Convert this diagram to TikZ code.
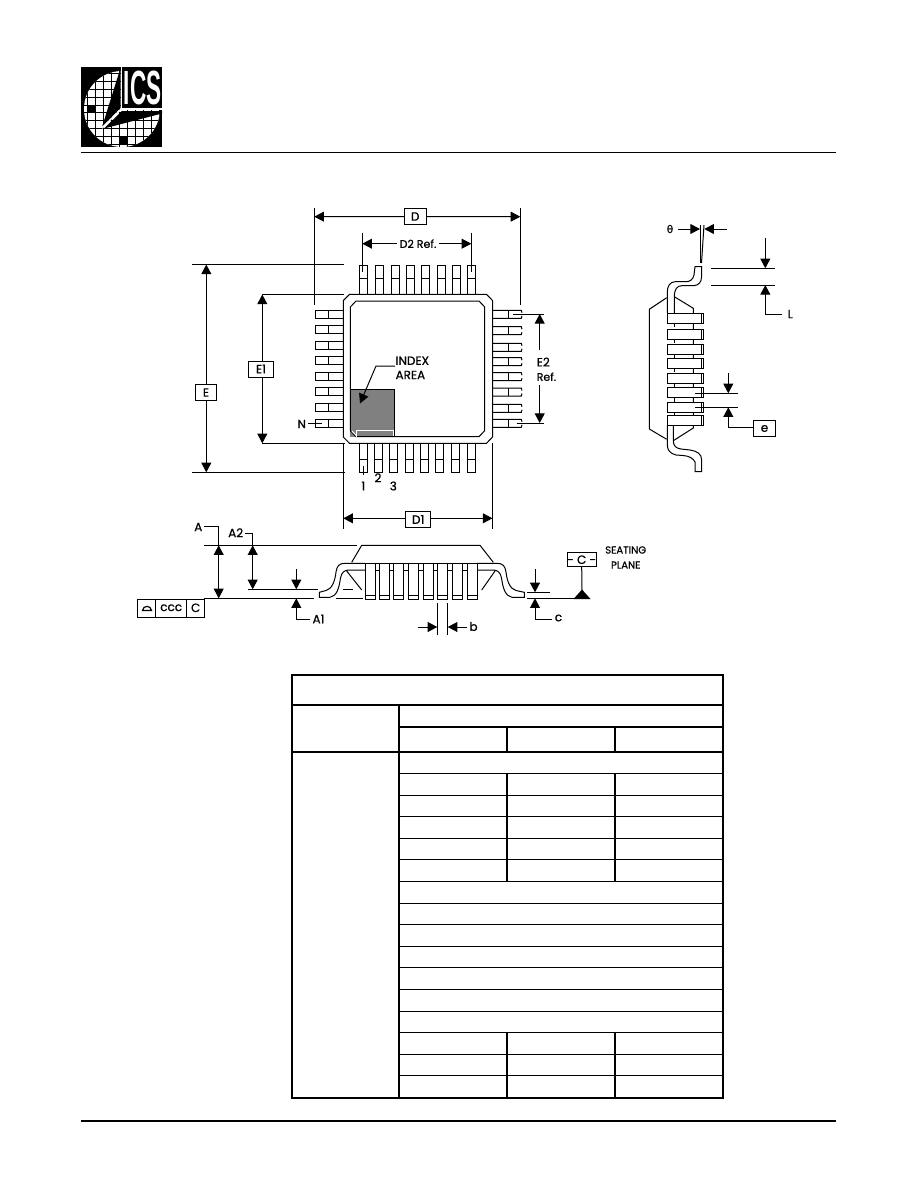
\documentclass[tikz,border=0pt]{standalone}
\usepackage{fontspec}
\setmainfont{Poppins}[FakeBold=0.7]
\newfontfamily\logofont{Liberation Sans}
\newfontfamily\symfont{DejaVu Sans}[FakeBold=0.5]
\usetikzlibrary{arrows.meta}
\tikzset{
  thinl/.style={line width=.75pt},
  arr/.style={thinl,-{Triangle[length=7.2pt,width=7.4pt]}},
  darr/.style={thinl,{Triangle[length=7.2pt,width=7.4pt]}-{Triangle[length=7.2pt,width=7.4pt]}},
  tabthick/.style={line width=1.5pt},
  tabthin/.style={line width=.9pt},
  dimbox/.style={draw,thinl,fill=white,minimum height=12pt,inner sep=0pt,font=\fontsize{9}{10}\selectfont},
  lbl/.style={inner sep=0pt,font=\fontsize{9}{10}\selectfont},
}
\begin{document}
\begin{tikzpicture}[x=.75pt,y=-.75pt,line join=miter]
\useasboundingbox (0,0) rectangle (918,1188);
% ---------- header / footer
\draw[line width=.8pt] (81,152.5) -- (836,152.5);
\draw[line width=.8pt] (81,1121) -- (836,1121);
% ---------- logo
\fill[black] (81,67) rectangle (162,147);
\begin{scope}
  \clip (122,109) circle (38);
  \fill[white] (81,67) rectangle (162,147);
  \draw[line width=.55pt] foreach \gx in {87,95,103,111,119,127,135,143,151,159}{(\gx,67) -- (\gx,147)};
  \draw[line width=.55pt] foreach \gy in {73.8,81.6,89.4,97.2,105,112.8,120.6,128.4,136.2,144}{(81,\gy) -- (162,\gy)};
  \fill[black] (87,105) rectangle (95,112.8);
  \fill[black] (119,136.2) rectangle (127,144);
\end{scope}
\fill[black] (122,67) rectangle (162,108);
\fill[black] (102,127) -- (120.5,68) -- (120.5,108) -- cycle;
\fill[black] (104,128.5) -- (122,111) -- (162,111) -- (162,113.5) -- cycle;
\draw[white,line width=1.1pt] (121.5,67) -- (121.5,108.8) -- (162,108.8);
\draw[white,line width=1.1pt] (121.5,108.8) -- (102,128);
\node[white,inner sep=0pt] (logotext) at (142.7,87.5) {\scalebox{.47}[1]{\logofont\bfseries\fontsize{36}{38}\selectfont ICS}};
% ---------- top view leads
\foreach \lx in {359.3,375.3,391.3,406.3,421.3,437.3,452.3,467.3}{
  \draw[thinl] (\lx,294) -- (\lx,265) -- (\lx+8,265) -- (\lx+8,294);
  \draw[thinl] (\lx,278) -- (\lx+8,278);
}
\foreach \lx in {359.3,374.3,389.3,405.3,420.3,435.3,451.3,467.3}{
  \draw[thinl] (\lx,443) -- (\lx,472.3) -- (\lx+8,472.3) -- (\lx+8,443);
  \draw[thinl] (\lx,459) -- (\lx+8,459);
}
\foreach \ly in {310.5,325.7,341,356.7,372.3,387.7,403.3,419.3}{
  \draw[thinl] (343.5,\ly) -- (315.3,\ly) -- (315.3,\ly+8) -- (343.5,\ly+8);
  \draw[thinl] (328.3,\ly) -- (328.3,\ly+8);
}
\foreach \ly in {310.3,326.7,343.3,357.7,372.7,388,404.3,419.3}{
  \draw[thinl] (492.5,\ly) -- (521.3,\ly) -- (522,\ly+2.5);
  \draw[thinl] (492.5,\ly+8) -- (521.3,\ly+8) -- (522,\ly+5.5);
  \draw[thinl] (508.3,\ly) -- (508.3,\ly+8);
}
% ---------- top view body
\draw[thinl,fill=white] (349.5,294.3) -- (486.5,294.3) -- (492.5,300.5) -- (492.5,437) -- (486.5,443.3) -- (349.5,443.3) -- (343.3,437) -- (343.3,300.5) -- cycle;
\fill[black!50] (350.3,389.3) rectangle (394.7,436.7);
\draw[thinl] (350.3,389.3) -- (394.7,389.3) -- (394.7,436.7);
\draw[thinl] (356,301) -- (479,301) -- (484.7,307) -- (484.7,430.7) -- (479,436.7) -- (356,436.7) -- (350.3,430.7) -- (350.3,307) -- cycle;
\draw[white,line width=.8pt] (393.3,436) -- (393.3,430.5) -- (356.7,430.5) -- (356.7,436.5);
\draw[white,line width=.8pt] (352,431) -- (356.7,436) ;
% index area
\node[lbl,anchor=west] (indexa) at (395.3,360.7) {INDEX};
\node[lbl,anchor=west] (areab) at (395.3,375) {AREA};
\coordinate (idxbend) at (376,366);
\coordinate (idxtip) at (360,403.5);
\draw[arr] (395,366) -- (idxbend) -- (idxtip);
% pin labels
\node[lbl] (pin1) at (363.3,486) {1};
\node[lbl] (pin2) at (378,477.7) {2};
\node[lbl] (pin3) at (393.3,486) {3};
\draw[thinl] (363.3,466) -- (363.3,475);
\node[lbl] (pinN) at (301.7,424) {N};
\draw[thinl] (308,423) -- (322,423);
% ---------- D
\draw[thinl] (314.3,208) -- (314.3,305);
\draw[thinl] (520.3,208) -- (520.3,305);
\node[dimbox,minimum width=16.2pt] (dD) at (415.2,216.5) {D};
\coordinate (dDl) at (314.3,216.7);
\coordinate (dDr) at (520.3,216.7);
\draw[arr] (dD.west) -- (dDl);
\draw[arr] (dD.east) -- (dDr);
% ---------- D2
\draw[thinl] (362.3,232.7) -- (362.3,271.7);
\draw[thinl] (471.3,232.7) -- (471.3,271.7);
\node[lbl,font=\fontsize{8.3}{10}\selectfont] (dD2) at (418,243.7) {D2 Ref.};
\coordinate (d2l) at (362.3,243.7);
\coordinate (d2r) at (471.3,243.7);
\draw[arr] (396.7,243.7) -- (d2l);
\draw[arr] (439,243.7) -- (d2r);
% ---------- E
\draw[thinl] (192.3,264.3) -- (344,264.3);
\draw[thinl] (192.3,472.3) -- (345,472.3);
\node[dimbox,minimum width=16pt] (dE) at (206,392.5) {E};
\coordinate (dEt) at (206.3,264.5);
\coordinate (dEb) at (206.3,472.3);
\draw[arr] (dE.north -| dEt) -- (dEt);
\draw[arr] (dE.south -| dEt) -- (dEb);
% ---------- E1
\draw[thinl] (262.3,294.3) -- (344,294.3);
\draw[thinl] (262.3,443.3) -- (345,443.3);
\node[dimbox,minimum width=19pt] (dE1) at (261,369) {E1};
\coordinate (dE1t) at (262.3,294.5);
\coordinate (dE1b) at (262.3,443.3);
\draw[arr] (dE1.north -| dE1t) -- (dE1t);
\draw[arr] (dE1.south -| dE1t) -- (dE1b);
% ---------- E2
\draw[thinl] (512.7,314) -- (544,314);
\draw[thinl] (516.7,423) -- (544,423);
\node[lbl,anchor=west] (dE2a) at (536.5,362) {E2};
\node[lbl,anchor=west,font=\fontsize{8.2}{10}\selectfont] (dE2b) at (536.5,376.7) {Ref.};
\coordinate (e2t) at (539.7,314);
\coordinate (e2b) at (539.7,423);
\draw[arr] (539.7,350) -- (e2t);
\draw[arr] (539.7,385) -- (e2b);
% ---------- D1
\draw[thinl] (343.3,443) -- (343.3,529.3);
\draw[thinl] (492.5,443) -- (492.5,529.3);
\node[dimbox,minimum width=18.8pt] (dD1) at (418.2,519.5) {D1};
\coordinate (d1l) at (343.3,518.3);
\coordinate (d1r) at (492.5,518.3);
\draw[arr] (dD1.west |- d1l) -- (d1l);
\draw[arr] (dD1.east |- d1r) -- (d1r);
% ---------- front view
\draw[thinl] (204,545.3) -- (356.7,545.3);
\draw[thinl] (204,598.3) -- (314,598.3);
\draw[thinl] (336,598.3) -- (363,598.3);
\draw[thinl] (248.3,589.3) -- (318.3,589.3);
\draw[thinl] (343,589.3) -- (353,589.3);
% body
\draw[thinl] (351.7,562.3) -- (361.7,545.3) -- (480,545.3) -- (493.3,562.3);
\draw[thinl] (346.7,571) -- (361.7,590);
\draw[thinl] (495,571) -- (481.7,590);
% left lead
\draw[thinl] (365,563.3) -- (345,563.3) .. controls (339,563.3) and (337,566) .. (336,572)
  .. controls (335,581) and (332,589) .. (326,590.5) -- (319.3,592.3) -- (319.3,597.3) -- (330,597.3)
  .. controls (337,596) and (339,588) .. (340.5,578) .. controls (341.5,572) and (345,570) .. (349,570) -- (365,570);
% right lead
\draw[thinl] (477,563.3) -- (497,563.3) .. controls (503,563.3) and (505,566) .. (506,572)
  .. controls (507,581) and (510,589) .. (516,590.5) -- (524.3,592.3) -- (524.3,597.3) -- (512,597.3)
  .. controls (505,596) and (503,588) .. (501.5,578) .. controls (500.5,572) and (497,570) .. (493,570) -- (477,570);
\draw[thinl] (365,563.3) -- (477,563.3);
\draw[thinl] (365,570) -- (477,570);
\foreach \fx in {365.3,379.3,393.3,408.3,423.3,437.7,452.7,467.7}{
  \draw[thinl,fill=white] (\fx,563.3) rectangle (\fx+10.2,599.3);
  \draw[thinl] (\fx,595.7) -- (\fx+10.2,595.7);
}
% A
\node[lbl] (lA) at (198.3,527) {A};
\coordinate (Acorner) at (218.7,526.7);
\coordinate (Atop) at (218.7,545.3);
\coordinate (Abot) at (218.7,598.3);
\draw[thinl] (204,526.7) -- (Acorner) -- (Atop);
\draw[darr] (Atop) -- (Abot);
% A2
\node[lbl] (lA2) at (235.7,532.7) {A2};
\coordinate (A2corner) at (252.7,533.7);
\coordinate (A2top) at (252.7,545.3);
\coordinate (A2bot) at (252.7,589.3);
\draw[thinl] (245,533.7) -- (A2corner) -- (A2top);
\draw[darr] (A2top) -- (A2bot);
% A1
\coordinate (A1t) at (296.3,589.3);
\coordinate (A1b) at (296.3,598.3);
\node[lbl] (lA1) at (318.5,619) {A1};
\draw[arr] (296.3,569) -- (A1t);
\draw[arr] (310,619.3) -- (296.3,619.3) -- (A1b);
% ccc box
\draw[thinl] (137.3,599.3) rectangle (204.7,617.3);
\draw[thinl] (155.7,599.3) -- (155.7,617.3);
\draw[thinl] (186.7,599.3) -- (186.7,617.3);
\node[lbl] (lccc) at (171.2,607.8) {ccc};
\node[lbl] (lCc) at (195.7,607.8) {C};
\draw[line width=.9pt] (142.5,610.5) -- (151.5,610.5) .. controls (151,605) and (143,605) .. (142.5,610.5) -- cycle;
% b
\draw[thinl] (437.3,603) -- (437.3,635);
\draw[thinl] (447.7,603) -- (447.7,635);
\coordinate (bl) at (437.3,627);
\coordinate (br) at (447.7,627);
\node[lbl] (lb) at (473.5,626.5) {b};
\draw[arr] (418.3,627) -- (bl);
\draw[arr] (466.7,627) -- (br);
% c and seating plane
\coordinate (ct) at (535,592.3);
\coordinate (cb) at (535,598.3);
\draw[thinl] (527.3,592.3) -- (550,592.3);
\draw[thinl] (527.3,598.3) -- (575,598.3);
\draw[arr] (535,569.3) -- (ct);
\draw[arr] (551.7,619.3) -- (535,619.3) -- (cb);
\node[lbl] (lc) at (558.5,618) {c};
\node[dimbox,minimum width=20pt,minimum height=10.5pt] (dC) at (581.7,559.7) {- C -};
\coordinate (tripeak) at (582,590);
\draw[thinl] (dC.south) -- (tripeak);
\fill (582,589.5) -- (590.5,599) -- (573.5,599) -- cycle;
\node[lbl,font=\fontsize{7.6}{9}\selectfont] (seat) at (625.7,550) {SEATING};
\node[lbl,font=\fontsize{7.6}{9}\selectfont] (plane) at (625.7,565) {PLANE};
% ---------- side view
\draw[thinl] (674.3,313) -- (674.3,296.7) .. controls (674.5,289) and (677,285.7) .. (682,285.7) -- (694,285.7)
  .. controls (699,285) and (701.5,282) .. (701.5,277) -- (701.7,266.7) -- (695,266.7)
  -- (694,275) .. controls (693,279.5) and (690,281.7) .. (686,281.7) -- (675,281.7)
  .. controls (670,282) and (667.3,286) .. (667.3,292) -- (667.3,313);
\draw[thinl] (666.7,297.7) -- (649.3,309.3) -- (649.3,429) -- (666.7,439.3);
\draw[thinl] (674.3,296.7) -- (693.3,308.3) -- (693.3,428) -- (673.3,440.7);
\foreach \sy in {313.3,329.3,344,358.3,373.3,387.7,402.3,415.7}{
  \draw[thinl,fill=white] (667.3,\sy) rectangle (703.3,\sy+10);
  \draw[thinl] (701,\sy) -- (701,\sy+10);
}
\foreach \sy in {323.3,339.3,354,368.3,383.3,397.7,412.3}{
  \draw[thinl] (674.3,\sy) -- (674.3,\sy+4);
  \draw[thinl] (693.3,\sy) -- (693.3,\sy+4);
}
\draw[thinl] (673.3,425.7) -- (673.3,441) .. controls (673.5,446) and (676,448.3) .. (681,449)
  -- (690,450) .. controls (697,451) and (701.7,454) .. (701.7,460) -- (701.7,471.7) -- (695,471.7) -- (695,462)
  .. controls (693,458) and (689,456) .. (683,455.5) -- (676,455) .. controls (670,453.5) and (667.3,450) .. (667.3,445) -- (667.3,425.7);
% theta
\node[lbl,font=\symfont\fontsize{8}{10}\selectfont] (ltheta) at (670,229) {θ};
\coordinate (thl) at (700,229);
\coordinate (thr) at (704.3,229);
\draw[arr] (678,229) -- (thl);
\draw[arr] (726.7,229) -- (thr);
\draw[thinl] (700.8,225) -- (700.8,263);
\draw[thinl] (704,225) -- (701.5,263);
% L
\draw[thinl] (711,268.3) -- (775,268.3);
\draw[thinl] (711,285) -- (775,285);
\coordinate (Lt) at (765.3,268.3);
\coordinate (Lb) at (765.3,285);
\draw[arr] (765.3,238.3) -- (Lt);
\draw[arr] (781.7,314) -- (765.3,314) -- (Lb);
\node[lbl] (lL) at (790.3,314) {L};
% e
\draw[thinl] (695,393.3) -- (737.7,393.3);
\draw[thinl] (695,407.3) -- (737.7,407.3);
\coordinate (et) at (728.3,393.3);
\coordinate (eb) at (728.3,407.3);
\node[dimbox,minimum width=16.8pt] (de) at (764.5,428.5) {e};
\draw[arr] (728.3,373.3) -- (et);
\draw[arr] (de.west |- 0,427.3) -- (728.3,427.3) -- (eb);
% ---------- table
\draw[tabthick] (292,675) rectangle (723,1097.7);
\draw[tabthick] (292,704.7) -- (723,704.7);
\draw[tabthick] (398.7,704.7) -- (398.7,1097.7);
\draw[tabthick] (398.7,726.7) -- (723,726.7);
\draw[tabthick] (292,752) -- (723,752);
\foreach \ty in {773.3,795.3,816.3,838.3,859.3,881.3,903.3,924.3,946.3,967.3,989.3,1011.3,1032.3,1054.3,1075.3}{
  \draw[tabthin] (398.7,\ty) -- (723,\ty);
}
\foreach \cx in {507,615}{
  \draw[tabthick] (\cx,726.7) -- (\cx,752);
  \draw[tabthick] (\cx,773.3) -- (\cx,881.3);
  \draw[tabthick] (\cx,1032.3) -- (\cx,1097.7);
}
\end{tikzpicture}
\end{document}
